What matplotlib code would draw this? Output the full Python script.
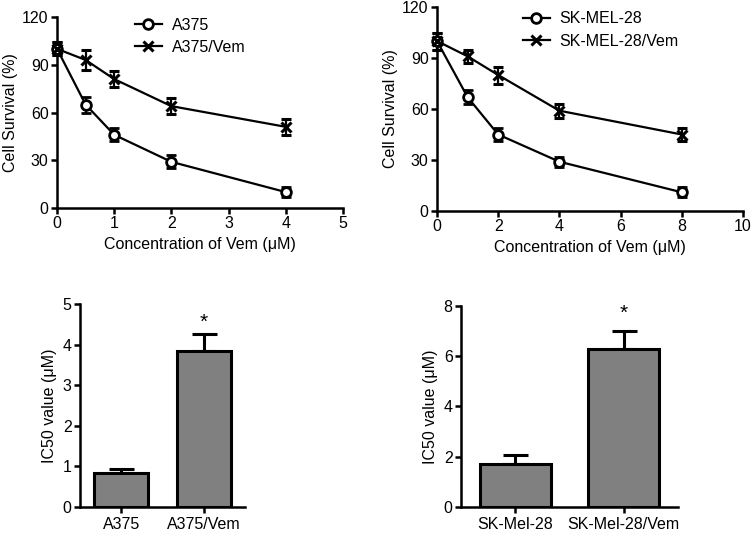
import numpy as np
import matplotlib.pyplot as plt
import matplotlib as mpl
from matplotlib.lines import Line2D

mpl.rc("font", family=["Liberation Sans", "DejaVu Sans"], size=11.5)
mpl.rc("axes", linewidth=1.8)
mpl.rc("xtick.major", width=1.8, size=4)
mpl.rc("ytick.major", width=1.8, size=4)

# survival curves, A375
a375_conc = [0, 0.5, 1, 2, 4]
a375_surv = [100, 65, 46, 29, 10]
a375_err = [4, 5, 4, 4, 3]
a375vem_surv = [100, 93, 81, 64, 51]
a375vem_err = [4, 6, 5, 5, 5]

# survival curves, SK-MEL-28
sk_conc = [0, 1, 2, 4, 8]
sk_surv = [100, 67, 45, 29, 11]
sk_err = [5, 4, 4, 3, 3]
skvem_surv = [100, 91, 80, 59, 45]
skvem_err = [5, 4, 5, 4, 4]

# IC50 bars
a375_groups = ["A375", "A375/Vem"]
a375_ic50 = [0.83, 3.83]
a375_ic50_err = [0.1, 0.43]
sk_groups = ["SK-Mel-28", "SK-Mel-28/Vem"]
sk_ic50 = [1.72, 6.3]
sk_ic50_err = [0.33, 0.72]


def clean(ax):
    ax.spines["top"].set_visible(False)
    ax.spines["right"].set_visible(False)
    ax.tick_params(direction="out", pad=2)


def curve_plot(ax, x, y1, e1, y2, e2, names, xmax, xticks, leg_x, leg_y):
    circ = dict(color="black", lw=1.6, marker="o", ms=7, mfc="white",
                mec="black", mew=2)
    cross = dict(color="black", lw=1.6, marker="x", ms=7, mew=2.2)
    ax.errorbar(x, y1, yerr=e1, capsize=3.5, elinewidth=1.6, capthick=1.6,
                clip_on=False, zorder=3, **circ)
    ax.errorbar(x, y2, yerr=e2, capsize=3.5, elinewidth=1.6, capthick=1.6,
                clip_on=False, zorder=3, **cross)
    ax.set_xlim(0, xmax)
    ax.set_ylim(0, 120)
    ax.set_xticks(xticks)
    ax.set_yticks([0, 30, 60, 90, 120])
    ax.set_xlabel("Concentration of Vem (\u03bcM)", labelpad=4)
    ax.set_ylabel("Cell Survival (%)", labelpad=3)
    handles = [Line2D([], [], **circ), Line2D([], [], **cross)]
    ax.legend(handles, names, loc="upper left", bbox_to_anchor=(leg_x, leg_y),
              frameon=False, handlelength=1.7, handletextpad=0.6,
              labelspacing=0.45, borderaxespad=0)
    clean(ax)


def bar_plot(ax, groups, vals, errs, ymax, yticks, star_y):
    pos = np.arange(len(groups))
    ax.bar(pos, vals, width=0.65, color="#808080", edgecolor="black",
           linewidth=2.2, zorder=2)
    ax.errorbar(pos, vals, yerr=[[0, 0], errs], fmt="none", ecolor="black",
                elinewidth=2.2, capsize=9, capthick=2.2, zorder=1)
    ax.text(1, star_y, "*", ha="center", va="center", fontsize=15)
    ax.set_xlim(-0.5, 1.5)
    ax.set_ylim(0, ymax)
    ax.set_yticks(yticks)
    ax.set_xticks(pos)
    ax.set_xticklabels(groups)
    ax.set_ylabel("IC50 value (\u03bcM)", labelpad=4)
    clean(ax)
    ax.tick_params(axis="x", pad=3)


fig = plt.figure(figsize=(7.53, 5.35), dpi=100)

ax1 = fig.add_axes([0.0757, 0.6112, 0.3798, 0.357])
curve_plot(ax1, a375_conc, a375_surv, a375_err, a375vem_surv, a375vem_err,
           ["A375", "A375/Vem"], 5, [0, 1, 2, 3, 4, 5], 0.25, 1.03)

ax2 = fig.add_axes([0.5803, 0.6056, 0.4064, 0.3813])
curve_plot(ax2, sk_conc, sk_surv, sk_err, skvem_surv, skvem_err,
           ["SK-MEL-28", "SK-MEL-28/Vem"], 10, [0, 2, 4, 6, 8, 10], 0.26, 1.01)

ax3 = fig.add_axes([0.1062, 0.0525, 0.2192, 0.3793])
bar_plot(ax3, a375_groups, a375_ic50, a375_ic50_err, 5, [0, 1, 2, 3, 4, 5], 4.56)

ax4 = fig.add_axes([0.6122, 0.0525, 0.2882, 0.3755])
bar_plot(ax4, sk_groups, sk_ic50, sk_ic50_err, 8, [0, 2, 4, 6, 8], 7.72)

plt.savefig("out.png", dpi=100)
